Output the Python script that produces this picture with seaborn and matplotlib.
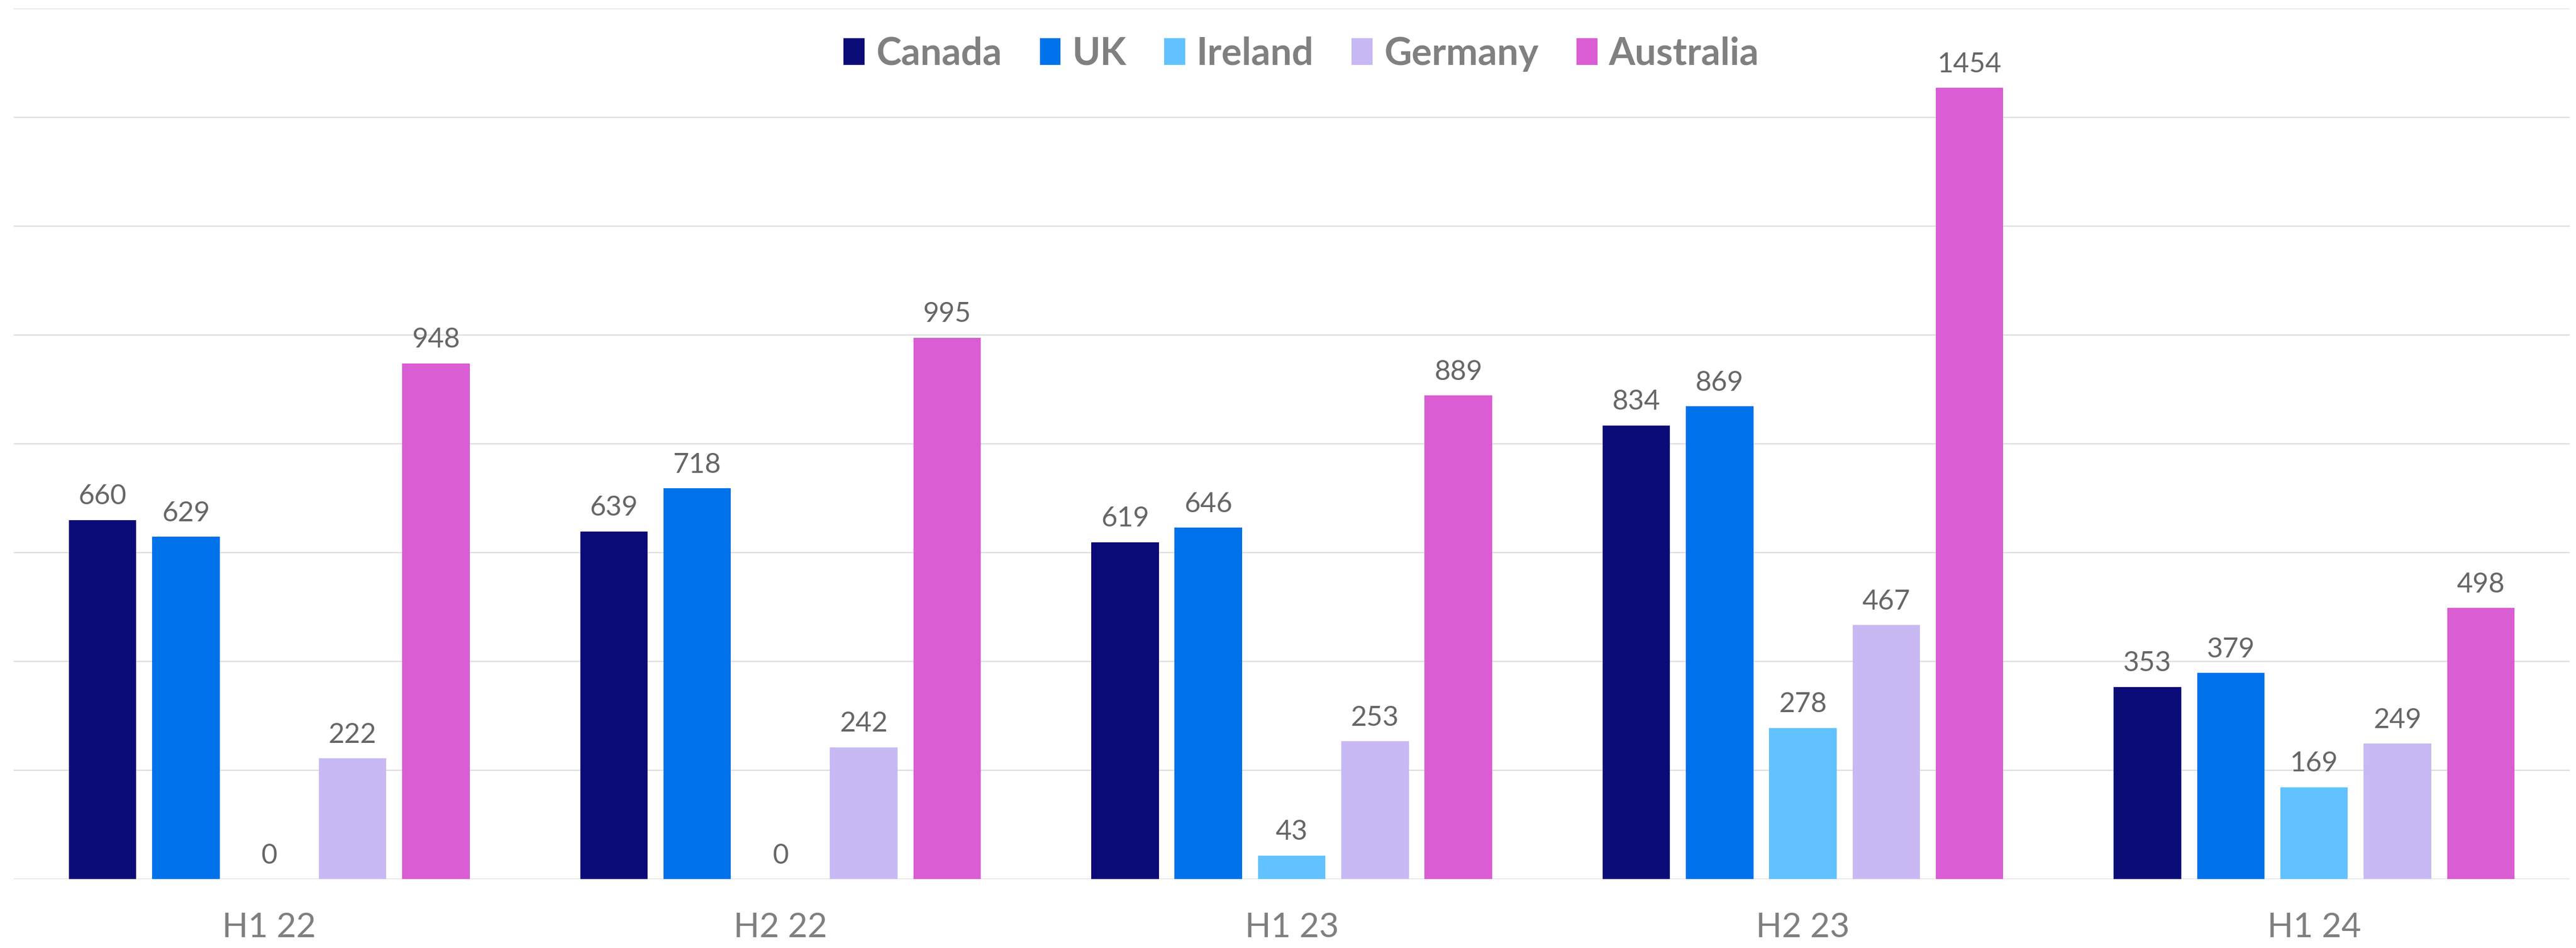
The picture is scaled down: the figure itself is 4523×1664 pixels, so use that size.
import matplotlib
matplotlib.use("Agg")
import matplotlib.pyplot as plt
from matplotlib.patches import Patch
import seaborn as sns
import pandas as pd

# Half-year periods and destination countries
periods = ["H1 22", "H2 22", "H1 23", "H2 23", "H1 24"]
countries = ["Canada", "UK", "Ireland", "Germany", "Australia"]

canada = [660, 639, 619, 834, 353]
uk = [629, 718, 646, 869, 379]
ireland = [0, 0, 43, 278, 169]
germany = [222, 242, 253, 467, 249]
australia = [948, 995, 889, 1454, 498]

colors = ["#0B0B78", "#0072E9", "#62C2FF", "#C8B9F4", "#DA5DD3"]

series = [canada, uk, ireland, germany, australia]
df = pd.DataFrame(
    [(p, c, v) for c, vals in zip(countries, series) for p, v in zip(periods, vals)],
    columns=["period", "country", "value"],
)

sns.set_theme(style="white")
plt.rcParams["font.family"] = ["Lato", "DejaVu Sans"]

W, H, DPI = 4523, 1664, 100
fig = plt.figure(figsize=(W / DPI, H / DPI), dpi=DPI)
ax = fig.add_axes([24 / W, 1 - 1543 / H, (4512 - 24) / W, (1543 - 15) / H])

sns.barplot(
    data=df, x="period", y="value", hue="country",
    order=periods, hue_order=countries, palette=colors, saturation=1,
    width=0.815, gap=0.19, linewidth=0, legend=False, ax=ax,
)

for cont in ax.containers:
    ax.bar_label(cont, fmt="%d", padding=14, fontsize=35, color="#666666")

ax.set_ylim(0, 1600)
ax.set_yticks(range(0, 1601, 200))
ax.yaxis.grid(True, color="#DDDDDD", linewidth=1.5)
ax.set_axisbelow(True)
ax.set_yticklabels([])
ax.tick_params(axis="y", length=0)
ax.tick_params(axis="x", length=0, pad=42, labelsize=43, labelcolor="#7F7F7F")
ax.set_xlabel("")
ax.set_ylabel("")
for s in ax.spines.values():
    s.set_visible(False)

handles = [Patch(facecolor=c, edgecolor="none") for c in colors]
leg = fig.legend(
    handles, countries, loc="center", bbox_to_anchor=(2285 / W, 1 - 95 / H),
    ncol=5, frameon=False, handlelength=0.55, handleheight=0.7,
    handletextpad=0.3, columnspacing=1.0,
    prop={"size": 48, "weight": "bold"},
)
for t in leg.get_texts():
    t.set_color("#808080")

fig.savefig("out.png", dpi=DPI, facecolor="white")
